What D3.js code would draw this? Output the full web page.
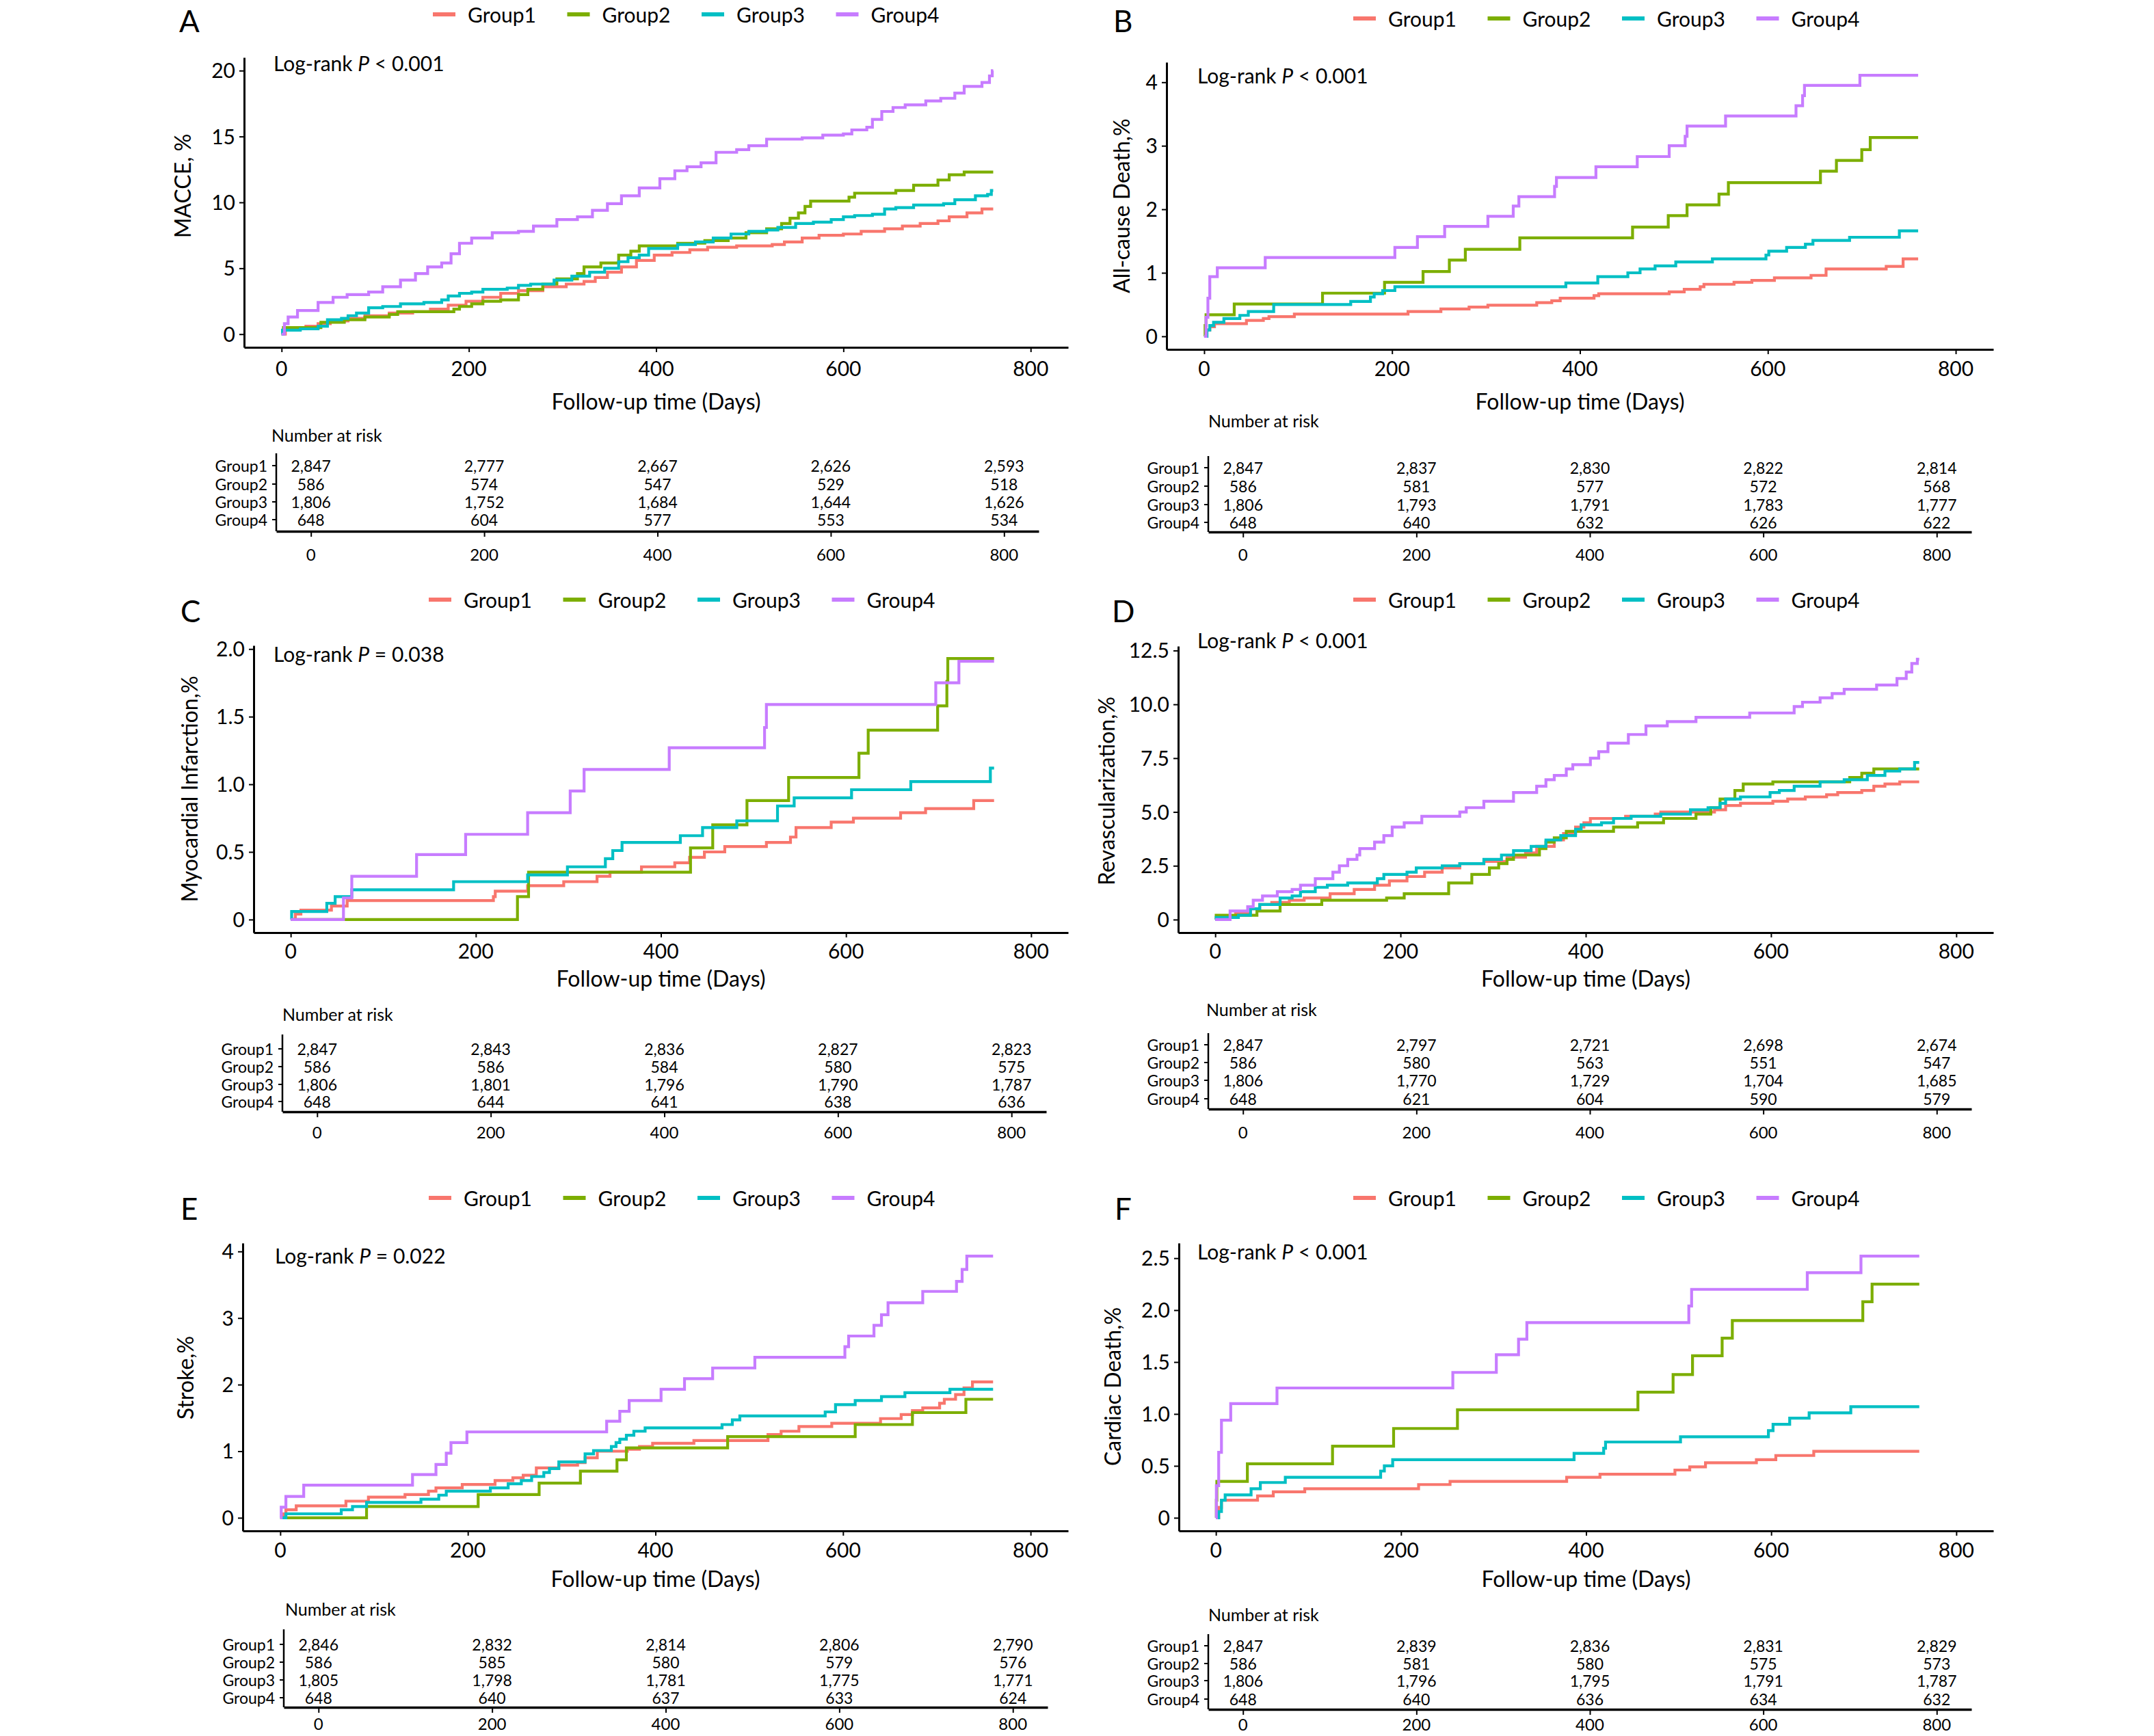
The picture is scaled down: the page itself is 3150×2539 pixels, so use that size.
<!DOCTYPE html>
<html>
<head>
<meta charset="utf-8">
<script src="https://cdn.jsdelivr.net/npm/d3@7"></script>
<style>
body { margin:0; padding:0; background:#fff; }
svg text { font-family: Lato, "Open Sans", sans-serif; fill:#000; }
</style>
</head>
<body>
<svg id="fig" width="3150" height="2539"></svg>
<script>
var groups = ["Group1", "Group2", "Group3", "Group4"];
var groupColors = ["#F8766D", "#7CAE00", "#00BFC4", "#C77CFF"];
var dayTicks = [0, 200, 400, 600, 800];
var lastDay = 760;

// A - MACCE  [day, cumulative %]
var macceG1 = [[0,0],[4,0.5],[26,0.6],[39,0.8],[52,1.0],[71,1.2],[89,1.4],[115,1.6],[140,1.7],[159,1.9],[178,2.2],[197,2.5],[215,2.8],[234,3.1],[253,3.3],[279,3.6],[304,3.8],[323,4.0],[335,4.3],[348,4.7],[363,5.1],[379,5.6],[398,6.0],[417,6.2],[436,6.4],[455,6.6],[486,6.7],[524,6.8],[537,7.0],[556,7.3],[574,7.5],[600,7.6],[619,7.8],[644,8.0],[663,8.2],[682,8.4],[701,8.6],[713,8.9],[732,9.2],[748,9.5]];
var macceG2 = [[0,0],[2,0.5],[42,0.9],[67,1.1],[89,1.3],[115,1.5],[124,1.7],[184,1.9],[190,2.1],[203,2.3],[215,2.5],[234,2.6],[253,3.0],[263,3.4],[279,3.8],[294,4.2],[316,4.6],[323,5.1],[341,5.4],[360,6.0],[373,6.3],[382,6.7],[423,6.9],[452,7.1],[477,7.3],[496,7.7],[518,8.0],[534,8.4],[543,8.8],[552,9.2],[559,9.7],[565,10.1],[606,10.4],[612,10.7],[656,10.9],[675,11.3],[701,11.7],[713,12.1],[729,12.3]];
var macceG3 = [[0,0],[1,0.3],[20,0.4],[39,0.6],[49,1.1],[64,1.2],[71,1.4],[80,1.6],[93,2.0],[108,2.1],[127,2.3],[152,2.4],[171,2.6],[178,2.9],[190,3.1],[203,3.2],[215,3.4],[241,3.5],[253,3.7],[266,3.8],[291,4.1],[310,4.4],[329,4.7],[345,5.0],[360,5.5],[370,5.8],[382,6.0],[392,6.5],[423,6.8],[442,7.0],[461,7.3],[480,7.6],[499,7.8],[518,7.9],[530,8.1],[549,8.4],[568,8.5],[587,8.7],[600,8.9],[612,9.0],[631,9.1],[644,9.5],[656,9.6],[675,9.8],[707,9.9],[719,10.2],[741,10.5],[754,10.6],[758,10.9]];
var macceG4 = [[0,0],[3,0.8],[7,1.3],[17,1.8],[39,2.4],[55,2.8],[70,3.0],[93,3.2],[108,3.6],[127,4.1],[143,4.6],[156,5.1],[171,5.4],[181,6.1],[190,6.9],[203,7.3],[225,7.7],[253,7.8],[269,8.2],[294,8.7],[316,8.9],[332,9.4],[348,9.9],[363,10.5],[382,11.1],[404,11.8],[420,12.4],[433,12.7],[448,13.0],[464,13.8],[486,14.0],[499,14.3],[518,14.8],[556,14.9],[578,15.1],[600,15.2],[609,15.5],[625,15.7],[631,16.3],[641,16.9],[653,17.2],[666,17.4],[688,17.7],[704,17.9],[719,18.3],[729,18.8],[748,19.1],[756,19.6],[759,20.0]];
var riskMacce = [[2847,2777,2667,2626,2593],[586,574,547,529,518],[1806,1752,1684,1644,1626],[648,604,577,553,534]];

// B - all-cause death
var deathG1 = [[0,0],[2,0.1],[6,0.15],[11,0.2],[45,0.25],[63,0.28],[69,0.31],[96,0.35],[217,0.39],[252,0.43],[282,0.46],[302,0.49],[354,0.53],[370,0.56],[379,0.6],[415,0.64],[420,0.67],[495,0.7],[511,0.74],[528,0.78],[532,0.82],[564,0.85],[583,0.88],[607,0.92],[646,0.96],[662,1.06],[726,1.1],[744,1.22]];
var deathG2 = [[0,0],[1,0.17],[2,0.34],[32,0.51],[126,0.68],[192,0.85],[233,1.02],[261,1.2],[278,1.37],[336,1.55],[456,1.72],[494,1.9],[514,2.07],[548,2.24],[558,2.42],[656,2.6],[673,2.77],[700,2.94],[709,3.13]];
var deathG3 = [[0,0],[3,0.1],[6,0.17],[10,0.22],[21,0.28],[38,0.33],[47,0.39],[74,0.5],[156,0.55],[177,0.62],[181,0.67],[190,0.72],[203,0.78],[385,0.84],[419,0.94],[451,1.0],[464,1.06],[480,1.11],[502,1.17],[541,1.22],[598,1.28],[601,1.34],[620,1.4],[640,1.45],[648,1.51],[687,1.56],[740,1.66]];
var deathG4 = [[0,0],[2,0.3],[4,0.6],[6,0.94],[14,1.08],[65,1.24],[203,1.4],[227,1.57],[256,1.73],[302,1.89],[329,2.05],[335,2.2],[373,2.36],[375,2.5],[417,2.67],[461,2.83],[495,3.0],[512,3.15],[514,3.31],[555,3.47],[630,3.63],[637,3.79],[639,3.95],[698,4.11]];
var riskDeath = [[2847,2837,2830,2822,2814],[586,581,577,572,568],[1806,1793,1791,1783,1777],[648,640,632,626,622]];

// C - myocardial infarction
var miG1 = [[0,0],[5,0.04],[11,0.07],[44,0.1],[61,0.14],[219,0.17],[221,0.21],[256,0.25],[295,0.28],[331,0.32],[345,0.35],[379,0.39],[415,0.42],[431,0.46],[447,0.5],[469,0.54],[514,0.57],[540,0.61],[546,0.68],[584,0.72],[608,0.75],[659,0.79],[686,0.82],[738,0.88]];
var miG2 = [[0,0],[245,0.17],[257,0.35],[432,0.53],[456,0.7],[493,0.88],[538,1.05],[614,1.23],[624,1.4],[699,1.58],[709,1.76],[710,1.93]];
var miG3 = [[0,0],[1,0.06],[39,0.12],[48,0.17],[66,0.22],[176,0.28],[256,0.33],[299,0.39],[340,0.45],[348,0.51],[358,0.57],[421,0.62],[445,0.68],[482,0.73],[526,0.84],[544,0.9],[606,0.96],[670,1.02],[756,1.12]];
var miG4 = [[0,0],[57,0.16],[66,0.32],[136,0.48],[189,0.63],[256,0.79],[302,0.95],[317,1.11],[409,1.27],[512,1.42],[514,1.59],[697,1.75],[722,1.91]];
var riskMI = [[2847,2843,2836,2827,2823],[586,586,584,580,575],[1806,1801,1796,1790,1787],[648,644,641,638,636]];

// D - revascularization
var revascG1 = [[0,0],[3,0.1],[22,0.3],[38,0.5],[48,0.7],[61,0.8],[80,0.9],[96,1.0],[124,1.2],[150,1.4],[172,1.6],[188,1.8],[207,2.0],[226,2.2],[245,2.4],[264,2.6],[290,2.7],[315,2.9],[335,3.1],[347,3.4],[366,3.7],[376,4.0],[389,4.3],[398,4.5],[405,4.7],[443,4.8],[475,4.9],[481,5.0],[539,5.1],[551,5.3],[567,5.4],[602,5.5],[618,5.6],[637,5.7],[660,5.8],[672,5.9],[698,6.0],[711,6.2],[723,6.3],[739,6.4]];
var revascG2 = [[0,0],[1,0.2],[45,0.4],[70,0.7],[115,0.9],[185,1.0],[204,1.2],[252,1.7],[277,2.1],[296,2.4],[306,2.6],[315,2.8],[322,3.0],[350,3.3],[357,3.6],[366,3.8],[379,4.1],[430,4.3],[456,4.5],[484,4.7],[519,4.9],[535,5.2],[545,5.6],[561,6.0],[570,6.3],[602,6.4],[685,6.6],[698,6.8],[711,7.0]];
var revascG3 = [[0,0],[1,0.1],[25,0.2],[38,0.5],[48,0.7],[70,1.0],[83,1.1],[92,1.3],[108,1.5],[121,1.6],[143,1.7],[175,1.9],[182,2.1],[207,2.2],[217,2.4],[245,2.5],[264,2.6],[290,2.8],[309,3.0],[322,3.2],[341,3.4],[357,3.7],[373,3.9],[389,4.2],[395,4.4],[417,4.5],[430,4.7],[449,4.8],[481,4.9],[513,5.1],[532,5.2],[545,5.4],[551,5.6],[567,5.7],[599,5.9],[609,6.0],[625,6.2],[653,6.4],[679,6.5],[704,6.7],[723,6.9],[739,7.0],[755,7.3]];
var revascG4 = [[0,0],[16,0.4],[35,0.6],[41,0.9],[51,1.1],[67,1.3],[83,1.4],[92,1.6],[108,1.9],[127,2.2],[134,2.5],[143,2.8],[153,3.0],[156,3.3],[172,3.6],[182,3.9],[191,4.3],[204,4.5],[223,4.8],[264,5.0],[271,5.2],[290,5.5],[322,5.9],[347,6.2],[357,6.5],[366,6.7],[379,7.0],[386,7.2],[405,7.5],[414,7.8],[424,8.2],[446,8.6],[465,9.0],[488,9.2],[519,9.4],[577,9.6],[625,9.9],[634,10.1],[653,10.3],[666,10.5],[679,10.7],[714,10.9],[736,11.2],[746,11.5],[752,11.9],[758,12.1]];
var riskRevasc = [[2847,2797,2721,2698,2674],[586,580,563,551,547],[1806,1770,1729,1704,1685],[648,621,604,590,579]];

// E - stroke
var strokeG1 = [[0,0],[3,0.06],[6,0.12],[17,0.18],[70,0.25],[94,0.31],[133,0.35],[158,0.4],[166,0.45],[194,0.5],[229,0.56],[248,0.6],[259,0.64],[273,0.75],[297,0.79],[317,0.83],[325,0.9],[338,1.0],[370,1.03],[383,1.07],[397,1.12],[441,1.16],[520,1.25],[534,1.3],[553,1.37],[588,1.42],[640,1.49],[662,1.55],[674,1.61],[685,1.65],[703,1.72],[708,1.78],[720,1.85],[729,1.95],[738,2.04]];
var strokeG2 = [[0,0],[92,0.17],[211,0.35],[276,0.52],[320,0.7],[359,0.87],[369,1.05],[477,1.22],[613,1.4],[674,1.58],[731,1.78]];
var strokeG3 = [[0,0],[6,0.06],[65,0.12],[77,0.17],[92,0.23],[150,0.28],[169,0.34],[177,0.4],[224,0.45],[243,0.51],[257,0.56],[268,0.62],[281,0.68],[287,0.74],[297,0.84],[325,0.96],[334,1.01],[353,1.07],[358,1.13],[362,1.18],[369,1.24],[377,1.3],[389,1.35],[471,1.4],[482,1.47],[490,1.53],[581,1.59],[592,1.7],[613,1.76],[641,1.82],[666,1.88],[714,1.93]];
var strokeG4 = [[0,0],[1,0.16],[6,0.32],[25,0.49],[141,0.65],[166,0.8],[177,0.97],[182,1.13],[199,1.29],[348,1.45],[362,1.6],[372,1.76],[406,1.93],[431,2.09],[461,2.25],[506,2.41],[602,2.57],[606,2.73],[633,2.89],[641,3.05],[648,3.23],[685,3.4],[721,3.55],[727,3.73],[732,3.93]];
var riskStroke = [[2846,2832,2814,2806,2790],[586,585,580,579,576],[1805,1798,1781,1775,1771],[648,640,637,633,624]];

// F - cardiac death
var cardG1 = [[0,0],[3,0.1],[6,0.17],[45,0.21],[62,0.25],[96,0.28],[219,0.32],[253,0.35],[379,0.39],[415,0.42],[496,0.46],[512,0.49],[529,0.53],[584,0.56],[605,0.6],[646,0.64]];
var cardG2 = [[0,0],[0.5,0.17],[1,0.35],[34,0.52],[126,0.69],[192,0.86],[261,1.04],[456,1.21],[494,1.38],[515,1.56],[547,1.73],[558,1.9],[699,2.08],[709,2.25]];
var cardG3 = [[0,0],[3,0.06],[6,0.17],[10,0.22],[38,0.28],[48,0.34],[75,0.39],[178,0.45],[182,0.5],[191,0.56],[387,0.62],[419,0.67],[421,0.73],[502,0.78],[597,0.84],[602,0.9],[620,0.96],[641,1.01],[686,1.07]];
var cardG4 = [[0,0],[0.5,0.31],[3,0.63],[6,0.94],[16,1.1],[66,1.25],[256,1.4],[303,1.57],[327,1.72],[336,1.88],[511,2.04],[514,2.2],[639,2.36],[697,2.52]];
var riskCardiac = [[2847,2839,2836,2831,2829],[586,581,580,575,573],[1806,1796,1795,1791,1787],[648,640,636,634,632]];

var oneDec = function(d) { return d === 0 ? "0" : d3.format(".1f")(d); };
var intFmt = d3.format("d");

var panels = [
  {letter:"A", letterXY:[262,47], ytitle:"MACCE, %", sign:"<", pval:"0.001", series:[macceG1,macceG2,macceG3,macceG4], risk:riskMacce,
   yTicks:[0,5,10,15,20], yFmt:intFmt, legend:[633,21], plot:[357,1562,84,508], pXY:[400,92], yTitle:[266,272], tickLabY:538, xTitleY:586,
   table:{x0:404,x1:1519,top:663,axisY:777,rows:[681,708,734,760],nar:[397,636],labY:810}},
  {letter:"B", letterXY:[1628,47], ytitle:"All-cause Death,%", sign:"<", pval:"0.001", series:[deathG1,deathG2,deathG3,deathG4], risk:riskDeath,
   yTicks:[0,1,2,3,4], yFmt:intFmt, legend:[1979,27], plot:[1706,2915,91,511], pXY:[1751,110], yTitle:[1639,301], tickLabY:538, xTitleY:586,
   table:{x0:1767,x1:2883,top:667,axisY:778,rows:[684,711,738,764],nar:[1767,615],labY:810}},
  {letter:"C", letterXY:[264,910], ytitle:"Myocardial Infarction,%", sign:"=", pval:"0.038", series:[miG1,miG2,miG3,miG4], risk:riskMI,
   yTicks:[0,0.5,1,1.5,2], yFmt:oneDec, legend:[627,877], plot:[371,1562,944,1364], pXY:[400,956], yTitle:[276,1154], tickLabY:1390, xTitleY:1430,
   table:{x0:413,x1:1530,top:1513,axisY:1626,rows:[1534,1560,1586,1611],nar:[413,1483],labY:1655}},
  {letter:"D", letterXY:[1626,910], ytitle:"Revascularization,%", sign:"<", pval:"0.001", series:[revascG1,revascG2,revascG3,revascG4], risk:riskRevasc,
   yTicks:[0,2.5,5,7.5,10,12.5], yFmt:oneDec, legend:[1979,877], plot:[1723,2915,945,1364], pXY:[1751,936], yTitle:[1617,1157], tickLabY:1390, xTitleY:1430,
   table:{x0:1767,x1:2883,top:1511,axisY:1622,rows:[1528,1554,1580,1607],nar:[1764,1476],labY:1655}},
  {letter:"E", letterXY:[264,1784], ytitle:"Stroke,%", sign:"=", pval:"0.022", series:[strokeG1,strokeG2,strokeG3,strokeG4], risk:riskStroke,
   yTicks:[0,1,2,3,4], yFmt:intFmt, legend:[627,1752], plot:[355,1562,1818,2239], pXY:[402,1836], yTitle:[270,2015], tickLabY:2266, xTitleY:2308,
   table:{x0:415,x1:1532,top:2383,axisY:2497,rows:[2405,2431,2457,2483],nar:[417,2353],labY:2520}},
  {letter:"F", letterXY:[1630,1784], ytitle:"Cardiac Death,%", sign:"<", pval:"0.001", series:[cardG1,cardG2,cardG3,cardG4], risk:riskCardiac,
   yTicks:[0,0.5,1,1.5,2,2.5], yFmt:oneDec, legend:[1979,1752], plot:[1724,2915,1818,2239], pXY:[1751,1830], yTitle:[1626,2028], tickLabY:2266, xTitleY:2308,
   table:{x0:1767,x1:2883,top:2390,axisY:2500,rows:[2407,2433,2458,2485],nar:[1767,2361],labY:2521}}
];

var svg = d3.select("#fig");
svg.append("rect").attr("width", 3150).attr("height", 2539).attr("fill", "#fff");

function drawPanel(p) {
  var g = svg.append("g");
  var px0 = p.plot[0], px1 = p.plot[1], py0 = p.plot[2], py1 = p.plot[3];
  var ymax = d3.max(p.series, function(s) { return d3.max(s, function(d) { return d[1]; }); });
  var x = d3.scaleLinear().domain([-40, 840]).range([px0, px1]);
  var y = d3.scaleLinear().domain([-0.05 * ymax, 1.05 * ymax]).range([py1, py0]);

  // panel letter
  g.append("text").attr("x", p.letterXY[0]).attr("y", p.letterXY[1])
    .style("font-size", "44px").text(p.letter);

  // legend
  groups.forEach(function(name, i) {
    var lx = p.legend[0] + i * 196.5;
    g.append("line").attr("x1", lx).attr("x2", lx + 33).attr("y1", p.legend[1]).attr("y2", p.legend[1])
      .attr("stroke", groupColors[i]).attr("stroke-width", 6);
    g.append("text").attr("x", lx + 51).attr("y", p.legend[1]).attr("dominant-baseline", "central")
      .style("font-size", "30px").text(name);
  });

  // curves
  var line = d3.line().curve(d3.curveStepAfter)
    .x(function(d) { return x(d[0]); }).y(function(d) { return y(d[1]); });
  p.series.forEach(function(s, i) {
    var pts = s.concat([[lastDay, s[s.length - 1][1]]]);
    g.append("path").datum(pts).attr("d", line).attr("fill", "none")
      .attr("stroke", groupColors[i]).attr("stroke-width", 4.2);
  });

  // axes
  var xa = g.append("g").attr("transform", "translate(0," + py1 + ")")
    .call(d3.axisBottom(x).tickValues(dayTicks).tickSizeInner(7).tickSizeOuter(0).tickPadding(0));
  xa.selectAll("text").remove();
  var ya = g.append("g").attr("transform", "translate(" + px0 + ",0)")
    .call(d3.axisLeft(y).tickValues(p.yTicks).tickFormat(p.yFmt).tickSizeInner(7).tickSizeOuter(0).tickPadding(6));
  [xa, ya].forEach(function(a) {
    a.select(".domain").attr("stroke", "#000").attr("stroke-width", 3);
    a.selectAll(".tick line").attr("stroke", "#000").attr("stroke-width", 2);
  });
  ya.selectAll("text").attr("fill", "#000").style("font-size", "30px").style("font-family", "Lato")
    .attr("dy", "0.35em");
  g.selectAll(".xlab").data(dayTicks).enter().append("text")
    .attr("x", function(d) { return x(d); }).attr("y", p.tickLabY)
    .attr("text-anchor", "middle").attr("dominant-baseline", "central")
    .style("font-size", "30px").text(function(d) { return d; });

  // titles
  g.append("text").attr("x", (px0 + px1) / 2).attr("y", p.xTitleY)
    .attr("text-anchor", "middle").attr("dominant-baseline", "central")
    .style("font-size", "32px").text("Follow-up time (Days)");
  g.append("text").attr("transform", "translate(" + p.yTitle[0] + "," + p.yTitle[1] + ") rotate(-90)")
    .attr("text-anchor", "middle").attr("dominant-baseline", "central")
    .style("font-size", "32px").text(p.ytitle);

  var lr = g.append("text").attr("x", p.pXY[0]).attr("y", p.pXY[1]).attr("dominant-baseline", "central")
    .style("font-size", "30px");
  lr.append("tspan").text("Log-rank ");
  lr.append("tspan").style("font-style", "italic").text("P");
  lr.append("tspan").text(" " + p.sign + " " + p.pval);

  // number at risk table
  var t = p.table;
  var xt = d3.scaleLinear().domain([-40, 840]).range([t.x0, t.x1]);
  g.append("text").attr("x", t.nar[0]).attr("y", t.nar[1]).attr("dominant-baseline", "central")
    .style("font-size", "25px").text("Number at risk");
  g.append("line").attr("x1", t.x0).attr("x2", t.x0).attr("y1", t.top).attr("y2", t.axisY)
    .attr("stroke", "#000").attr("stroke-width", 2.5);
  var ta = g.append("g").attr("transform", "translate(0," + t.axisY + ")")
    .call(d3.axisBottom(xt).tickValues(dayTicks).tickSizeInner(8).tickSizeOuter(0).tickPadding(0));
  ta.selectAll("text").remove();
  ta.select(".domain").attr("stroke", "#000").attr("stroke-width", 3.5);
  ta.selectAll(".tick line").attr("stroke", "#000").attr("stroke-width", 2);
  g.selectAll(".tlab").data(dayTicks).enter().append("text")
    .attr("x", function(d) { return xt(d); }).attr("y", t.labY)
    .attr("text-anchor", "middle").attr("dominant-baseline", "central")
    .style("font-size", "24px").text(function(d) { return d; });

  var fmt = d3.format(",");
  groups.forEach(function(name, i) {
    var ry = t.rows[i];
    g.append("text").attr("x", t.x0 - 13).attr("y", ry).attr("text-anchor", "end")
      .attr("dominant-baseline", "central").style("font-size", "23px").text(name);
    g.append("line").attr("x1", t.x0 - 6).attr("x2", t.x0).attr("y1", ry).attr("y2", ry)
      .attr("stroke", "#000").attr("stroke-width", 2);
    p.risk[i].forEach(function(v, j) {
      g.append("text").attr("x", xt(dayTicks[j])).attr("y", ry)
        .attr("text-anchor", "middle").attr("dominant-baseline", "central")
        .style("font-size", "23px").text(fmt(v));
    });
  });
}

panels.forEach(drawPanel);
</script>
</body>
</html>
